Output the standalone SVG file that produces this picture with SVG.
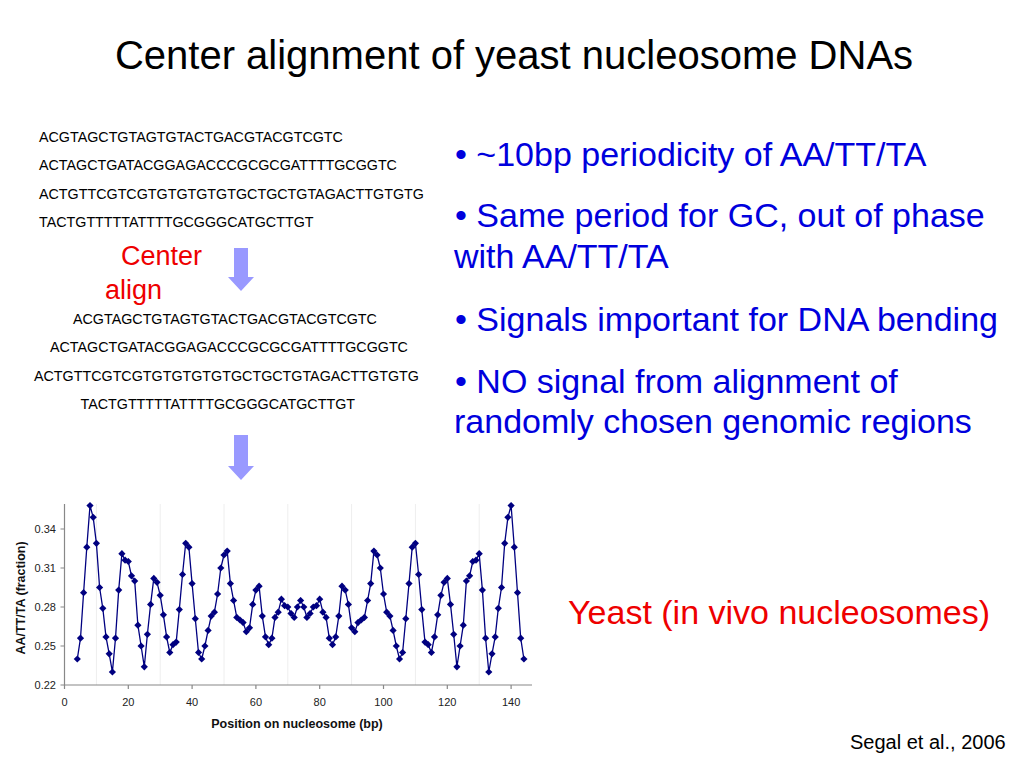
<svg xmlns="http://www.w3.org/2000/svg" width="1024" height="768" viewBox="0 0 1024 768">
<style>
.title{font-family:"Liberation Sans",Arial,sans-serif;font-size:40px;fill:#000}
.seq{font-family:"Liberation Sans",Arial,sans-serif;font-size:14.3px;fill:#000}
.red{font-family:"Liberation Sans",Arial,sans-serif;fill:#ee0000}
.bul{font-family:"Liberation Sans",Arial,sans-serif;font-size:34px;fill:#0000dd}
.tick{font-family:"Liberation Sans",Arial,sans-serif;font-size:11px;fill:#222}
.axt{font-family:"Liberation Sans",Arial,sans-serif;font-size:12.5px;font-weight:bold;fill:#111}
.cite{font-family:"Liberation Sans",Arial,sans-serif;font-size:20px;fill:#000}
.arrow{fill:#9999ff}
.axis{stroke:#888;stroke-width:1.2;fill:none}
.grid{stroke:#eeeeee;stroke-width:1}
.data{stroke:#000080;stroke-width:1.3;fill:none;stroke-linejoin:round}
</style>
<defs>
<marker id="dia" markerUnits="userSpaceOnUse" viewBox="-4 -4 8 8" markerWidth="8" markerHeight="8" refX="0" refY="0" orient="0">
<path d="M0,-3.6 L3.6,0 L0,3.6 L-3.6,0 Z" fill="#000080"/>
</marker>
</defs>
<rect width="1024" height="768" fill="#fff"/>
<g id="title"><text class="title" x="514" y="69" text-anchor="middle">Center alignment of yeast nucleosome DNAs</text></g>
<g id="seqs-original">
<text class="seq" x="39" y="141.5">ACGTAGCTGTAGTGTACTGACGTACGTCGTC</text>
<text class="seq" x="39" y="170.3">ACTAGCTGATACGGAGACCCGCGCGATTTTGCGGTC</text>
<text class="seq" x="39" y="198.6">ACTGTTCGTCGTGTGTGTGTGCTGCTGTAGACTTGTGTG</text>
<text class="seq" x="39" y="227">TACTGTTTTTATTTTGCGGGCATGCTTGT</text>
</g>
<g id="center-align-label">
<text class="red" font-size="27" x="121" y="265">Center</text>
<text class="red" font-size="27" x="105" y="299">align</text>
</g>
<g id="arrow1"><polygon class="arrow" points="234,248 248,248 248,277 254,277 241,291 228,277 234,277"/></g>
<g id="seqs-aligned">
<text class="seq" x="73" y="323.5">ACGTAGCTGTAGTGTACTGACGTACGTCGTC</text>
<text class="seq" x="50" y="352">ACTAGCTGATACGGAGACCCGCGCGATTTTGCGGTC</text>
<text class="seq" x="34" y="380.5">ACTGTTCGTCGTGTGTGTGTGCTGCTGTAGACTTGTGTG</text>
<text class="seq" x="80.5" y="409">TACTGTTTTTATTTTGCGGGCATGCTTGT</text>
</g>
<g id="arrow2"><polygon class="arrow" points="234,435 248,435 248,466 254,466 241,480 228,466 234,466"/></g>
<g id="bullets">
<text class="bul" x="455" y="166">• ~10bp periodicity of AA/TT/TA</text>
<text class="bul" x="455" y="227">• Same period for GC, out of phase</text>
<text class="bul" x="454" y="268">with AA/TT/TA</text>
<text class="bul" x="455" y="331">• Signals important for DNA bending</text>
<text class="bul" x="455" y="393">• NO signal from alignment of</text>
<text class="bul" x="454" y="433">randomly chosen genomic regions</text>
</g>
<g id="chart">
<g id="grid">
<line class="grid" x1="96.4" y1="504" x2="96.4" y2="685"/>
<line class="grid" x1="160.2" y1="504" x2="160.2" y2="685"/>
<line class="grid" x1="224" y1="504" x2="224" y2="685"/>
<line class="grid" x1="287.8" y1="504" x2="287.8" y2="685"/>
<line class="grid" x1="351.6" y1="504" x2="351.6" y2="685"/>
<line class="grid" x1="415.4" y1="504" x2="415.4" y2="685"/>
<line class="grid" x1="479.2" y1="504" x2="479.2" y2="685"/>
</g>
<g id="axes">
<path class="axis" d="M64.5,504 V685 H532"/>
<path class="axis" d="M60.5,685 H64.5 M60.5,646 H64.5 M60.5,607 H64.5 M60.5,568 H64.5 M60.5,529 H64.5"/>
<path class="axis" d="M64.5,685 V689 M128.3,685 V689 M192.1,685 V689 M255.9,685 V689 M319.7,685 V689 M383.5,685 V689 M447.3,685 V689 M511.1,685 V689"/>
</g>
<g id="yticks">
<text class="tick" x="56" y="689" text-anchor="end">0.22</text>
<text class="tick" x="56" y="650" text-anchor="end">0.25</text>
<text class="tick" x="56" y="611" text-anchor="end">0.28</text>
<text class="tick" x="56" y="572" text-anchor="end">0.31</text>
<text class="tick" x="56" y="533" text-anchor="end">0.34</text>
</g>
<g id="xticks">
<text class="tick" x="64.5" y="706" text-anchor="middle">0</text>
<text class="tick" x="128.3" y="706" text-anchor="middle">20</text>
<text class="tick" x="192.1" y="706" text-anchor="middle">40</text>
<text class="tick" x="255.9" y="706" text-anchor="middle">60</text>
<text class="tick" x="319.7" y="706" text-anchor="middle">80</text>
<text class="tick" x="383.5" y="706" text-anchor="middle">100</text>
<text class="tick" x="447.3" y="706" text-anchor="middle">120</text>
<text class="tick" x="511.1" y="706" text-anchor="middle">140</text>
</g>
<text class="axt" x="297" y="728" text-anchor="middle">Position on nucleosome (bp)</text>
<text class="axt" transform="translate(25,598) rotate(-90)" text-anchor="middle">AA/TT/TA (fraction)</text>
<g id="series">
<polyline class="data" marker-start="url(#dia)" marker-mid="url(#dia)" marker-end="url(#dia)" points="77.3,659 80.5,638.2 83.6,592.7 86.8,547.2 90,505.6 93.2,517.3 96.4,543.3 99.6,587.5 102.8,608.3 106,636.9 109.2,653.8 112.4,672 115.5,638.2 118.7,590.1 121.9,553.7 125.1,560.2 128.3,561.5 131.5,575.8 134.7,581 137.9,625.2 141.1,646 144.3,666.8 147.4,634.3 150.6,604.4 153.8,578.4 157,582.3 160.2,595.3 163.4,614.8 166.6,636.9 169.8,652.5 173,644.7 176.2,642.1 179.3,609.6 182.5,574.5 185.7,543.3 188.9,547.2 192.1,583.6 195.3,618.7 198.5,652.5 201.7,659 204.9,646 208.1,630.4 211.2,616.1 214.4,612.2 217.6,594 220.8,568 224,555 227.2,551.1 230.4,583.6 233.6,600.5 236.8,617.4 240,620 243.1,622.6 246.3,631.7 249.5,627.8 252.7,604.4 255.9,590.1 259.1,586.2 262.3,616.1 265.5,636.9 268.7,644.7 271.9,638.2 275,617.4 278.2,612.2 281.4,599.2 284.6,605.7 287.8,607 291,613.5 294.2,617.4 297.4,607 300.6,600.5 303.8,607 306.9,617.4 310.1,613.5 313.3,607 316.5,605.7 319.7,599.2 322.9,612.2 326.1,617.4 329.3,638.2 332.5,644.7 335.7,636.9 338.8,616.1 342,586.2 345.2,590.1 348.4,604.4 351.6,627.8 354.8,631.7 358,622.6 361.2,620 364.4,617.4 367.6,600.5 370.7,583.6 373.9,551.1 377.1,555 380.3,568 383.5,594 386.7,612.2 389.9,616.1 393.1,630.4 396.3,646 399.5,659 402.6,652.5 405.8,618.7 409,583.6 412.2,547.2 415.4,543.3 418.6,574.5 421.8,609.6 425,642.1 428.2,644.7 431.4,652.5 434.5,636.9 437.7,614.8 440.9,595.3 444.1,582.3 447.3,578.4 450.5,604.4 453.7,634.3 456.9,666.8 460.1,646 463.3,625.2 466.4,581 469.6,575.8 472.8,561.5 476,560.2 479.2,553.7 482.4,590.1 485.6,638.2 488.8,672 492,653.8 495.2,636.9 498.3,608.3 501.5,587.5 504.7,543.3 507.9,517.3 511.1,505.6 514.3,547.2 517.5,592.7 520.7,638.2 523.9,659"/>
</g>
</g>
<g id="yeast-label"><text class="red" font-size="34" x="568" y="624">Yeast (in vivo nucleosomes)</text></g>
<g id="citation"><text class="cite" x="850" y="749">Segal et al., 2006</text></g>
</svg>
